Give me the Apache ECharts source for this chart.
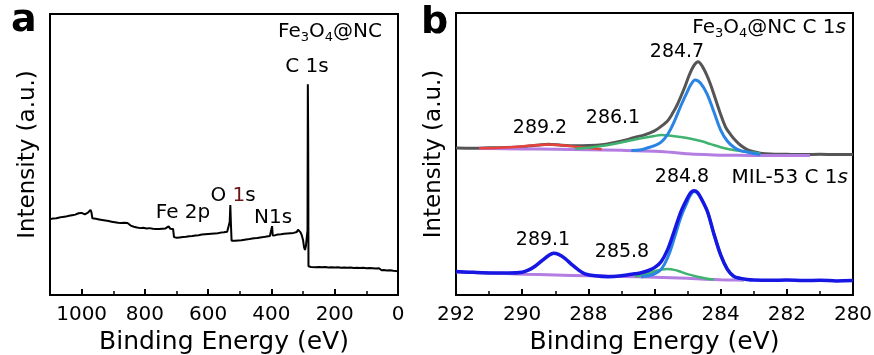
<!DOCTYPE html>
<html><head><meta charset="utf-8">
<script src="https://cdn.jsdelivr.net/npm/echarts@6/dist/echarts.min.js"></script>
<style>html,body{margin:0;padding:0;background:#fff}#c{width:874px;height:355px}</style>
</head><body><div id="c"></div><script>
// ---------- Panel a: XPS survey (binding energy eV, intensity a.u.) ----------
const surveyData = [
[1100,27.0],[1095,27.4],[1090,27.2],[1085,27.5],[1080,27.3],[1075,27.7],[1070,27.6],[1065,27.9],[1060,27.8],[1055,28.1],
[1050,27.9],[1045,28.3],[1040,28.2],[1035,28.6],[1030,28.4],[1025,28.8],[1020,28.6],[1015,29.0],[1010,29.1],[1005,28.8],
[1000,29.2],[995,29.0],[990,28.7],[985,28.9],[980,29.3],[975,29.5],[972,30.3],[969,29.4],[966,27.3],[960,26.9],
[955,27.1],[950,26.8],[945,26.9],[940,26.6],[935,26.7],[930,26.4],[925,26.5],[920,26.2],[915,26.3],[910,26.0],
[905,26.1],[900,25.8],[895,25.9],[890,25.5],[885,25.7],[880,25.3],[875,25.6],[870,25.9],[865,25.7],[860,26.0],
[855,25.6],[850,25.2],[845,24.7],[840,24.8],[835,24.3],[830,24.5],[825,24.0],[820,24.2],[815,23.8],[810,23.6],
[805,23.9],[800,23.4],[795,23.7],[790,23.5],[785,23.8],[780,23.4],[775,23.6],[770,23.3],[765,23.5],[760,23.2],
[755,23.5],[750,23.3],[745,23.6],[740,23.4],[735,23.7],[730,23.5],[725,24.4],[720,23.6],[715,23.8],[711,23.5],
[708,20.6],[705,20.2],[700,20.4],[695,20.3],[690,20.5],[685,20.4],[680,20.6],[675,20.5],[670,20.7],[665,20.6],
[660,20.9],[655,20.8],[650,21.0],[645,20.9],[640,21.2],[635,21.1],[630,21.3],[625,21.2],[620,21.5],[615,21.3],
[610,21.6],[605,21.4],[600,21.7],[595,21.5],[590,21.8],[585,21.6],[580,21.9],[575,21.7],[570,22.0],[565,21.8],
[560,22.2],[555,22.0],[550,22.3],[545,22.1],[540,22.5],[535,23.0],[532,26.0],[530,32.0],[528,25.0],[526,19.3],
[523,19.1],[520,19.5],[515,19.3],[510,19.6],[505,19.4],[500,19.7],[495,19.5],[490,19.8],[485,19.7],[480,20.0],
[475,19.8],[470,20.1],[465,20.0],[460,20.3],[455,20.2],[450,20.5],[445,20.3],[440,20.6],[435,20.5],[430,20.8],
[425,20.6],[420,20.9],[415,20.8],[410,21.1],[405,21.0],[400,21.4],[398,24.5],[396,21.2],[392,21.0],[388,21.3],
[384,21.1],[380,21.5],[375,21.3],[370,21.6],[365,21.4],[360,21.8],[355,21.6],[350,21.9],[345,21.7],[340,22.0],
[335,21.8],[330,22.1],[325,21.9],[320,22.4],[316,23.2],[312,22.7],[308,22.3],[304,21.2],[300,19.5],[297,17.0],
[294,16.0],[291,17.5],[288,21.0],[286,23.0],[285,75.0],[284,58.0],[283.5,40.0],[283,10.2],[280,10.1],[275,10.0],
[270,10.1],[260,9.9],[250,10.0],[240,9.9],[230,10.0],[220,9.8],[210,9.9],[200,9.8],[190,9.9],[180,9.7],
[170,9.8],[160,9.7],[150,9.8],[140,9.6],[130,9.7],[120,9.6],[110,9.7],[100,9.5],[90,9.6],[80,9.5],
[70,9.4],[60,9.5],[55,9.3],[52,8.8],[45,8.9],[35,8.7],[25,8.8],[15,8.6],[5,8.5],[0,8.4]
];

// ---------- Panel b: C 1s high-resolution spectra ----------
// Fe3O4@NC (upper)
const fenEnvelope = [
[292.0,52.1],[291.5,52.0],[291.0,52.2],[290.5,52.3],[290.0,52.6],[289.5,53.2],[289.2,53.5],[288.8,53.1],[288.4,52.9],
[288.0,53.0],[287.6,53.3],[287.2,54.1],[286.8,55.2],[286.6,55.9],[286.3,56.8],[286.0,58.2],[285.8,59.8],[285.6,61.8],
[285.45,64.5],[285.3,67.8],[285.1,73.3],[284.95,78.0],[284.8,81.5],[284.68,82.7],[284.55,81.0],[284.42,78.0],[284.3,74.5],
[284.2,71.0],[284.0,64.0],[283.85,59.5],[283.7,56.9],[283.55,54.8],[283.4,53.1],[283.2,51.6],[283.0,50.8],[282.8,50.3],
[282.5,50.0],[282.0,49.9],[281.5,49.8],[281.0,49.9],[280.5,49.8],[280.0,49.8]
];
const fenBackground = [
[291.3,52.0],[290.0,51.8],[289.0,51.7],[288.0,51.5],[287.0,51.3],[286.0,51.0],[285.5,50.6],[285.0,50.1],[284.5,49.8],
[284.0,49.6],[283.0,49.5],[282.0,49.5],[281.3,49.5]
];
const fenPeak2892 = [
[291.3,52.0],[290.8,52.1],[290.4,52.4],[290.0,52.7],[289.6,53.1],[289.2,53.4],[288.8,53.1],[288.4,52.6],[288.0,52.1],[287.6,51.7]
];
const fenPeak2861 = [
[288.4,51.9],[288.0,52.2],[287.6,52.8],[287.2,53.6],[286.8,54.6],[286.4,55.6],[286.0,56.4],[285.8,56.7],[285.5,56.5],
[285.2,56.0],[284.9,55.4],[284.6,54.6],[284.3,53.5],[284.0,52.4],[283.7,51.6],[283.4,51.1],[283.1,50.6],[282.8,50.2]
];
const fenPeak2847 = [
[286.7,51.2],[286.4,51.5],[286.2,52.2],[286.0,53.0],[285.8,54.2],[285.6,57.0],[285.4,61.6],[285.2,67.2],[285.0,72.3],[284.9,74.6],
[284.77,76.2],[284.6,75.0],[284.4,71.0],[284.2,64.8],[284.0,58.5],[283.8,54.6],[283.6,52.4],[283.4,51.2],[283.2,50.7],
[283.0,50.2],[282.8,49.8]
];
// MIL-53 (lower)
const milEnvelope = [
[292.0,8.3],[291.6,8.1],[291.2,7.9],[290.8,7.8],[290.4,7.8],[290.0,8.1],[289.8,8.9],[289.6,10.3],[289.4,12.2],[289.2,14.0],
[289.05,14.8],[288.9,14.4],[288.7,12.9],[288.5,10.8],[288.3,8.9],[288.1,7.5],[287.8,6.8],[287.4,6.5],[287.0,6.8],[286.6,7.5],
[286.4,7.9],[286.2,8.6],[286.0,9.7],[285.8,11.8],[285.6,16.2],[285.4,22.8],[285.2,29.6],[285.0,34.5],[284.9,36.4],[284.8,37.0],
[284.7,36.4],[284.6,34.5],[284.4,29.6],[284.2,21.5],[284.0,14.2],[283.8,9.2],[283.6,6.6],[283.4,5.9],[283.2,5.5],[283.0,5.3],
[282.5,5.2],[282.0,5.3],[281.5,5.1],[281.0,5.2],[280.5,5.0],[280.0,5.1]
];
const milBackground = [
[292.0,8.2],[291.0,7.8],[290.0,7.4],[289.0,7.1],[288.0,6.8],[287.0,6.6],[286.0,6.3],[285.0,5.9],[284.5,5.6],[284.0,5.4],
[283.5,5.3],[283.3,5.2]
];
const milPeak2858 = [
[286.6,6.6],[286.4,6.9],[286.2,7.6],[286.0,8.4],[285.8,9.0],[285.6,9.2],[285.4,8.9],[285.2,8.2],[285.0,7.4],[284.7,6.5],
[284.4,5.8],[284.2,5.5]
];
const milPeak2848 = [
[286.4,6.4],[286.2,6.8],[286.0,7.5],[285.8,9.1],[285.6,13.3],[285.4,20.2],[285.2,27.7],[285.0,33.2],[284.9,35.7],[284.8,36.7],
[284.7,36.1],[284.6,34.4],[284.4,29.5],[284.2,21.4],[284.0,14.1],[283.8,9.1],[283.6,6.5],[283.4,5.8],[283.2,5.4]
];

const surveyTicks = [0, 200, 400, 600, 800, 1000];
const c1sTicks = [280, 282, 284, 286, 288, 290, 292];

const FONT = 'DejaVu Sans';
const chart = echarts.init(document.getElementById('c'), null, {renderer: 'canvas'});

function xAx(gi, min, max, interval, minorSplit, name) {
  return {
    gridIndex: gi, type: 'value', min: min, max: max, interval: interval, inverse: true,
    axisLine: {show: true, onZero: false, lineStyle: {color: '#000', width: 2}},
    axisTick: {show: true, inside: true, length: 6, lineStyle: {color: '#000', width: 2}},
    minorTick: {show: true, splitNumber: minorSplit, length: 4, lineStyle: {color: '#000', width: 1.5}},
    splitLine: {show: false}, minorSplitLine: {show: false},
    axisLabel: {color: '#000', fontSize: 20, fontFamily: FONT, margin: 10,
      formatter: v => (gi === 0 ? surveyTicks : c1sTicks).indexOf(v) >= 0 ? String(v) : ''},
    name: name, nameLocation: 'middle', nameGap: 31,
    nameTextStyle: {fontSize: 25, color: '#000', fontFamily: FONT}
  };
}
function yAx(gi) {
  return {
    gridIndex: gi, type: 'value', min: 0, max: 100,
    axisLine: {show: true, lineStyle: {color: '#000', width: 2}},
    axisTick: {show: false}, axisLabel: {show: false}, splitLine: {show: false},
    name: 'Intensity (a.u.)', nameLocation: 'middle', nameGap: 10,
    nameTextStyle: {fontSize: 23, color: '#000', fontFamily: FONT}
  };
}
function ln(data, color, width, xi, smooth, z) {
  return {type: 'line', data: data, xAxisIndex: xi, yAxisIndex: xi, showSymbol: false, symbol: 'none',
    smooth: smooth, z: z, lineStyle: {color: color, width: width}, silent: true};
}
const GRAY = '#555555', PURPLE = '#b47de2', RED = '#e8423c', GREEN = '#3fb36f', LBLUE = '#2a84e4', DBLUE = '#1717e3';

const rt = {
  n: {fontSize: 20, fontFamily: FONT, fill: '#000'},
  s: {fontSize: 13, fontFamily: FONT, fill: '#000', padding: [11, 0, 0, 0]},
  i: {fontSize: 20, fontFamily: FONT, fontStyle: 'italic', fill: '#000'},
  r: {fontSize: 20, fontFamily: FONT, fill: '#6e1616'}
};
function txt(x, y, text, align, rich, size) {
  return {type: 'text', x: x, y: y, silent: true, z: 100,
    style: {text: text, align: align || 'center', verticalAlign: 'middle', fontSize: size || 19, fontFamily: FONT, fill: '#000', rich: rich ? rt : undefined}};
}

chart.setOption({
  animation: false,
  backgroundColor: '#fff',
  grid: [
    {left: 50, right: 476, top: 14, bottom: 60, show: true, borderColor: '#000', borderWidth: 2, backgroundColor: 'transparent', containLabel: false, outerBoundsMode: 'none'},
    {left: 456, right: 21, top: 13, bottom: 60, show: true, borderColor: '#000', borderWidth: 2, backgroundColor: 'transparent', containLabel: false, outerBoundsMode: 'none'}
  ],
  xAxis: [xAx(0, 0, 1100, 200, 2, 'Binding Energy (eV)'), xAx(1, 280, 292, 2, 2, 'Binding Energy (eV)')],
  yAxis: [yAx(0), yAx(1)],
  series: [
    ln(surveyData, '#000', 2, 0, false, 2),
    ln(fenEnvelope, GRAY, 3, 1, 0.3, 2),
    ln(fenBackground, PURPLE, 3, 1, 0.3, 3),
    ln(fenPeak2892, RED, 2.5, 1, 0.4, 4),
    ln(fenPeak2861, GREEN, 2.5, 1, 0.4, 5),
    ln(fenPeak2847, LBLUE, 3, 1, 0.4, 6),
    ln(milBackground, PURPLE, 3, 1, 0.3, 3),
    ln(milPeak2858, GREEN, 2.5, 1, 0.4, 4),
    ln(milPeak2848, LBLUE, 3, 1, 0.4, 5),
    ln(milEnvelope, DBLUE, 3.5, 1, 0.3, 6)
  ],
  graphic: [
    {type: 'text', x: 11, y: 40, silent: true, style: {text: 'a', fontSize: 38, fontWeight: 'bold', fontFamily: FONT, fill: '#000', align: 'left', verticalAlign: 'bottom'}},
    {type: 'text', x: 421, y: 42, silent: true, style: {text: 'b', fontSize: 38, fontWeight: 'bold', fontFamily: FONT, fill: '#000', align: 'left', verticalAlign: 'bottom'}},
    txt(330, 32, '{n|Fe}{s|3}{n|O}{s|4}{n|@NC}', 'center', true),
    txt(307, 67, 'C 1s', 'center', false, 20),
    txt(233, 196, '{n|O }{r|1}{n|s}', 'center', true),
    txt(183, 213, 'Fe 2p', 'center', false, 20),
    txt(273, 218, 'N1s', 'center', false, 20),
    txt(846, 28, '{n|Fe}{s|3}{n|O}{s|4}{n|@NC C 1}{i|s}', 'right', true),
    txt(677, 52, '284.7'),
    txt(613, 118, '286.1'),
    txt(540, 128, '289.2'),
    txt(682, 177, '284.8'),
    txt(848, 178, '{n|MIL-53 C 1}{i|s}', 'right', true),
    txt(543, 240, '289.1'),
    txt(622, 252, '285.8')
  ]
});
</script></body></html>
